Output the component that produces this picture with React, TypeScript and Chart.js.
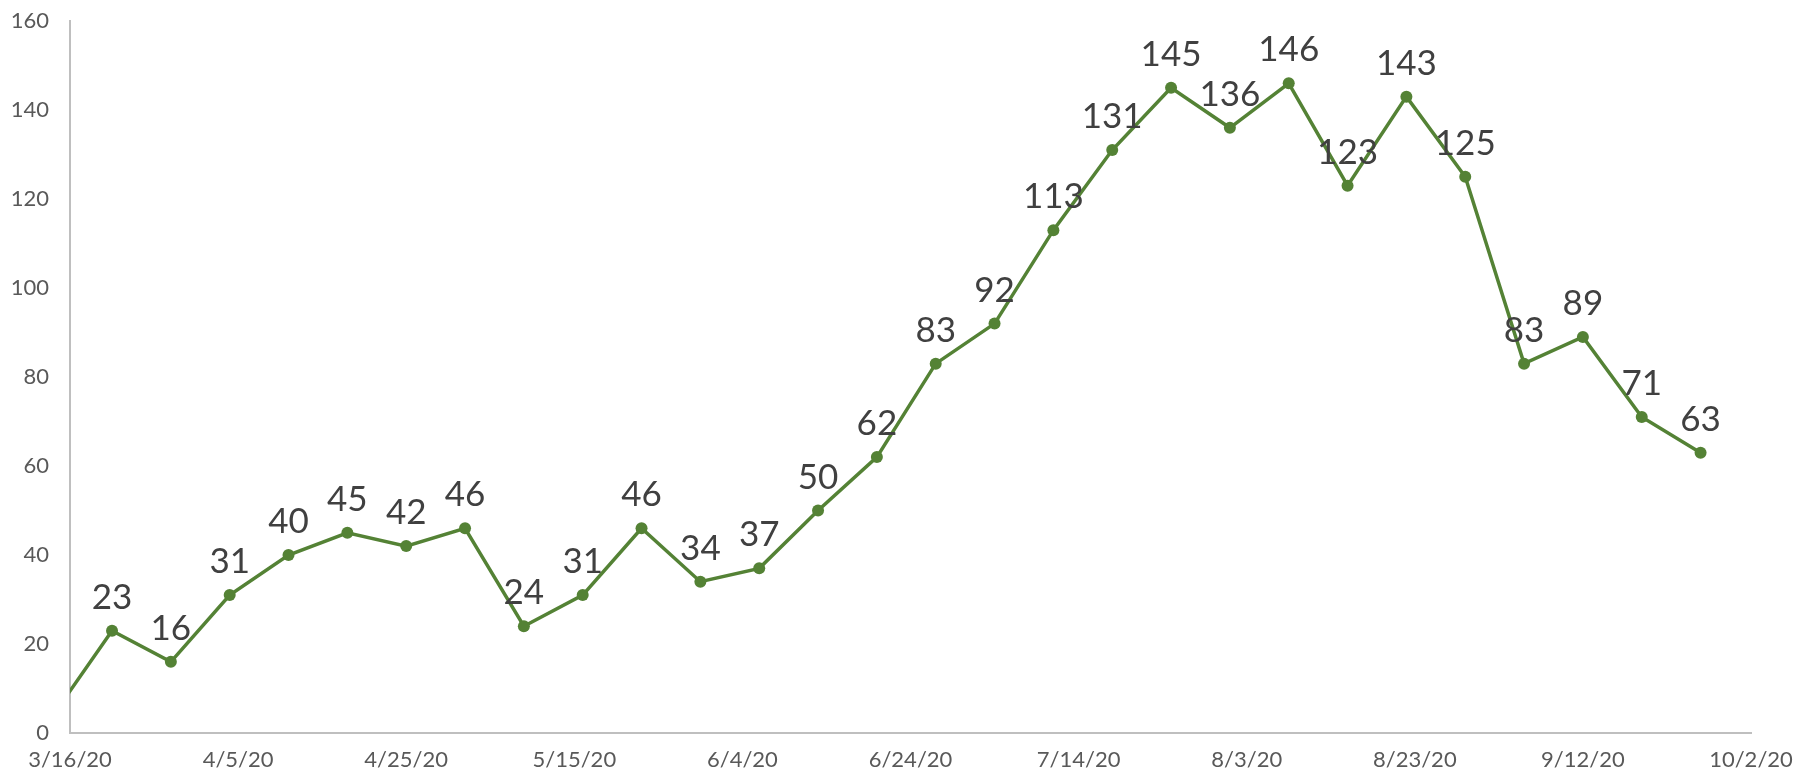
import React, { useEffect, useRef } from "react";
import { Chart, registerables } from "chart.js";

Chart.register(...registerables);

const weekDates = [
  "3/14/20", "3/21/20", "3/28/20", "4/4/20", "4/11/20", "4/18/20", "4/25/20",
  "5/2/20", "5/9/20", "5/16/20", "5/23/20", "5/30/20", "6/6/20", "6/13/20",
  "6/20/20", "6/27/20", "7/4/20", "7/11/20", "7/18/20", "7/25/20", "8/1/20",
  "8/8/20", "8/15/20", "8/22/20", "8/29/20", "9/5/20", "9/12/20", "9/19/20",
  "9/26/20",
];
const weeklyValues = [
  4, 23, 16, 31, 40, 45, 42, 46, 24, 31, 46, 34, 37, 50, 62, 83, 92, 113, 131,
  145, 136, 146, 123, 143, 125, 83, 89, 71, 63,
];
const axisStart = "3/16/20";
const axisEnd = "10/2/20";
const tickStepDays = 20;
const yMax = 160;
const yStep = 20;

const toUTC = (s: string) => {
  const [m, d, y] = s.split("/").map(Number);
  return Date.UTC(2000 + y, m - 1, d);
};
const DAY = 86400000;
const startMs = toUTC(axisStart);
const dayOffset = (s: string) => Math.round((toUTC(s) - startMs) / DAY);
const fmt = (days: number) => {
  const dt = new Date(startMs + days * DAY);
  return `${dt.getUTCMonth() + 1}/${dt.getUTCDate()}/${String(dt.getUTCFullYear()).slice(2)}`;
};

const GREEN = "#548235";
const FONT = "Lato, 'Open Sans', sans-serif";

const labelPlugin = {
  id: "pointLabels",
  afterDatasetsDraw(chart: any) {
    const { ctx, chartArea } = chart;
    const meta = chart.getDatasetMeta(0);
    ctx.save();
    ctx.font = `35px ${FONT}`;
    ctx.fillStyle = "#404040";
    ctx.textAlign = "center";
    ctx.textBaseline = "alphabetic";
    meta.data.forEach((pt: any, i: number) => {
      if (pt.x < chartArea.left - 0.5 || pt.x > chartArea.right + 0.5) return;
      ctx.fillText(String(weeklyValues[i]), pt.x, pt.y - 22);
    });
    ctx.restore();
  },
};

export default function App() {
  const ref = useRef<HTMLCanvasElement>(null);
  useEffect(() => {
    if (!ref.current) return;
    const data = weekDates.map((d, i) => ({ x: dayOffset(d), y: weeklyValues[i] }));
    const chart = new Chart(ref.current, {
      type: "line",
      data: {
        datasets: [
          {
            data,
            borderColor: GREEN,
            backgroundColor: GREEN,
            borderWidth: 3.5,
            pointRadius: data.map((p) => (p.x < 0 ? 0 : 6)),
            pointBorderWidth: 0,
            pointBackgroundColor: GREEN,
            tension: 0,
          },
        ],
      },
      options: {
        responsive: true,
        maintainAspectRatio: false,
        animation: false,
        layout: { padding: { top: 21, right: 67, left: 0, bottom: 0 } },
        plugins: { legend: { display: false }, tooltip: { enabled: false } },
        scales: {
          x: {
            type: "linear",
            min: 0,
            max: dayOffset(axisEnd),
            grid: { display: false, drawTicks: false },
            border: { display: true, color: "#bfbfbf", width: 2 },
            ticks: {
              stepSize: tickStepDays,
              color: "#595959",
              font: { family: FONT, size: 22 },
              padding: 14,
              maxRotation: 0,
              autoSkip: false,
              callback: (v: any) => fmt(Number(v)),
            },
            afterFit: (s: any) => {
              s.height = 46;
              s.paddingLeft = 0;
              s.paddingRight = 0;
            },
          },
          y: {
            min: 0,
            max: yMax,
            grid: { display: false, drawTicks: false },
            border: { display: true, color: "#bfbfbf", width: 2 },
            ticks: {
              stepSize: yStep,
              color: "#595959",
              font: { family: FONT, size: 22 },
              padding: 21,
            },
            afterFit: (s: any) => {
              s.width = 70;
              s.paddingTop = 0;
              s.paddingBottom = 0;
            },
          },
        },
      },
      plugins: [labelPlugin],
    });
    return () => chart.destroy();
  }, []);
  return (
    <div style={{ position: "fixed", left: 0, top: 0, width: 1818, height: 779, background: "#fff" }}>
      <canvas ref={ref} />
    </div>
  );
}
